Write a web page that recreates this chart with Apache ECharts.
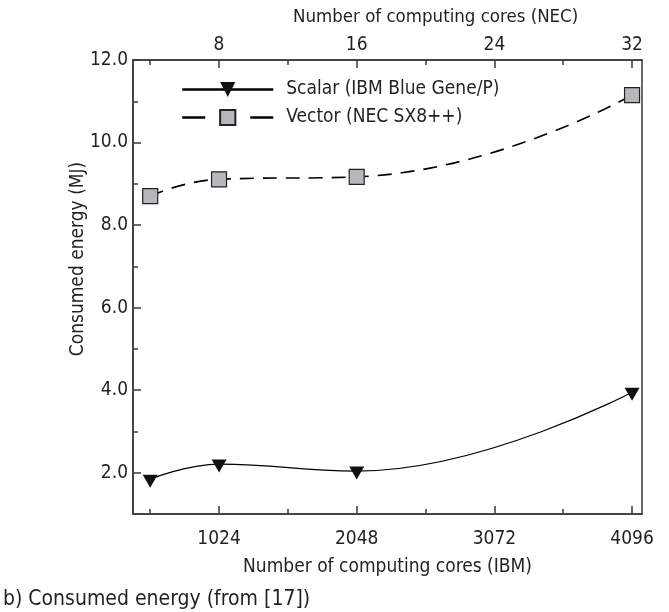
<!DOCTYPE html>
<html>
<head>
<meta charset="utf-8">
<script src="https://cdn.jsdelivr.net/npm/echarts@6/dist/echarts.min.js"></script>
<style>
  html, body { margin: 0; padding: 0; background: #fff; }
  #chart { width: 669px; height: 612px; }
</style>
</head>
<body>
<div id="chart"></div>
<script>
// data
var ibmCores = [512, 1024, 2048, 4096]
var necCores = [4, 8, 16, 32]
var scalarEnergy = [1.84, 2.21, 2.04, 3.95]
var vectorEnergy = [8.70, 9.11, 9.17, 11.15]
var ibmTicks = [1024, 2048, 3072, 4096]
var ibmMinor = [512, 1536, 2560, 3584]
var necTicks = [8, 16, 24, 32]
var necMinor = [4, 12, 20, 28]
var energyTicks = [2, 4, 6, 8, 10, 12]
var energyMinor = [3, 5, 7, 9, 11]

var FONT = '"Liberation Sans Narrow", "DejaVu Sans Condensed", sans-serif'
var FS = 19
var TXT = '#231f20'
var AX = '#3a3a3a'

var chart = echarts.init(document.getElementById('chart'))

function zip (xs, ys) {
  return xs.map(function (x, i) { return [x, ys[i]] })
}

// one axis for the long ticks + labels, one for the short minor ticks
function majorX (pos, min, max, ticks, margin, extra) {
  return Object.assign({
    type: 'value', position: pos, min: min, max: max,
    axisLine: { show: true, lineStyle: { color: AX, width: 1.5 } },
    axisTick: { show: true, inside: true, length: 8, customValues: ticks, lineStyle: { color: AX, width: 1.5 } },
    axisLabel: {
      customValues: ticks, margin: margin, fontFamily: FONT, fontSize: FS, color: TXT,
      formatter: function (v) { return String(v) }
    },
    splitLine: { show: false }
  }, extra || {})
}
function minorX (pos, min, max, ticks) {
  return {
    type: 'value', position: pos, min: min, max: max,
    axisLine: { show: false },
    axisTick: { show: true, inside: true, length: 5, customValues: ticks, lineStyle: { color: AX, width: 1.5 } },
    axisLabel: { show: false },
    splitLine: { show: false }
  }
}

chart.setOption({
  animation: false,
  backgroundColor: '#fff',
  grid: {
    left: 133, right: 27, top: 60, bottom: 98,
    show: true, borderColor: AX, borderWidth: 1.5,
    outerBoundsMode: 'none'
  },
  legend: {
    orient: 'vertical',
    left: 181, top: 80, padding: 0,
    itemWidth: 91, itemHeight: 19, itemGap: 9,
    textStyle: { fontFamily: FONT, fontSize: FS, color: TXT, padding: [0, 0, 0, 8] },
    data: [
      { name: 'Scalar (IBM Blue Gene/P)', lineStyle: { width: 2.5, type: 'solid' } },
      { name: 'Vector (NEC SX8++)', lineStyle: { width: 2.5, type: [23, 45] } }
    ]
  },
  xAxis: [
    majorX('bottom', 384, 4170, ibmTicks, 16, {
      name: 'Number of computing cores (IBM)',
      nameLocation: 'middle', nameGap: 44,
      nameTextStyle: { fontFamily: FONT, fontSize: FS, color: TXT }
    }),
    minorX('bottom', 384, 4170, ibmMinor),
    majorX('top', 3, 4170 / 128, necTicks, 5),
    minorX('top', 3, 4170 / 128, necMinor)
  ],
  yAxis: [
    {
      type: 'value', position: 'left', min: 1, max: 12,
      axisLine: { show: true, lineStyle: { color: AX, width: 1.5 } },
      axisTick: { show: true, inside: true, length: 8, customValues: energyTicks, lineStyle: { color: AX, width: 1.5 } },
      axisLabel: {
        customValues: energyTicks, margin: 5,
        fontFamily: FONT, fontSize: FS, color: TXT,
        formatter: function (v) { return v.toFixed(1) }
      },
      splitLine: { show: false }
    },
    {
      type: 'value', position: 'left', min: 1, max: 12,
      axisLine: { show: false },
      axisTick: { show: true, inside: true, length: 5, customValues: energyMinor, lineStyle: { color: AX, width: 1.5 } },
      axisLabel: { show: false },
      splitLine: { show: false }
    }
  ],
  graphic: [
    {
      type: 'text', x: 78, y: 259, rotation: Math.PI / 2,
      style: { text: 'Consumed energy (MJ)', fontFamily: FONT, fontSize: FS, fill: TXT, align: 'center', verticalAlign: 'middle' }
    },
    {
      type: 'text', x: 293, y: 17,
      style: { text: 'Number of computing cores (NEC)', fontFamily: FONT, fontSize: 18.5, fill: TXT, align: 'left', verticalAlign: 'middle' }
    },
    {
      type: 'text', x: 3, y: 600,
      style: { text: 'b) Consumed energy (from [17])', fontFamily: FONT, fontSize: 21, fill: TXT, align: 'left', verticalAlign: 'middle' }
    }
  ],
  series: [
    {
      name: 'Scalar (IBM Blue Gene/P)',
      type: 'line',
      xAxisIndex: 0, yAxisIndex: 0,
      smooth: 0.45,
      symbol: 'triangle', symbolRotate: 180, symbolSize: [15, 13], symbolOffset: [0, 2],
      lineStyle: { color: '#000', width: 1.2 },
      itemStyle: { color: '#111', borderWidth: 0 },
      data: zip(ibmCores, scalarEnergy)
    },
    {
      name: 'Vector (NEC SX8++)',
      type: 'line',
      xAxisIndex: 2, yAxisIndex: 0,
      smooth: 0.5,
      symbol: 'rect', symbolSize: 15,
      lineStyle: { color: '#000', width: 1.6, type: [14, 9] },
      itemStyle: { color: '#b7b7bb', borderColor: '#222', borderWidth: 1.2 },
      data: zip(necCores, vectorEnergy)
    }
  ]
})
</script>
</body>
</html>
